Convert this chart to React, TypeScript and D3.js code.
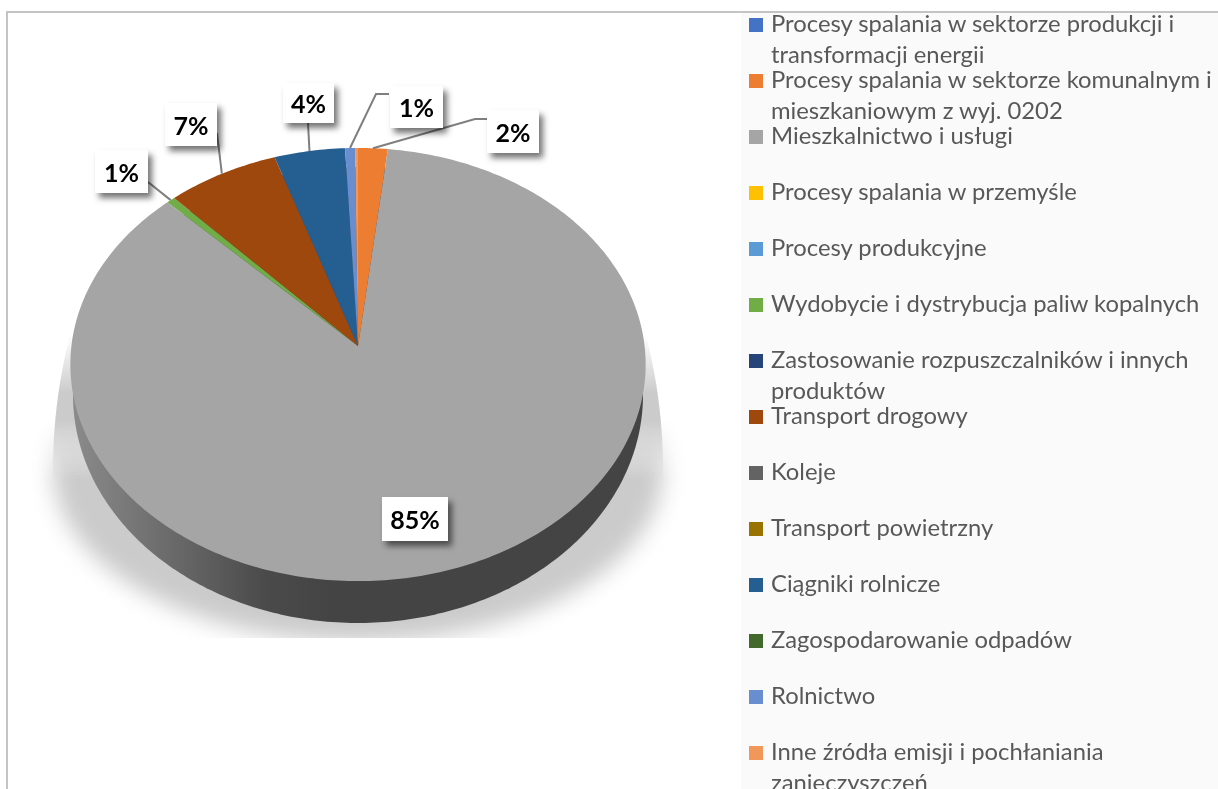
import React from "react";
import * as d3 from "d3";

const categories = [
  "Procesy spalania w sektorze produkcji i|transformacji energii",
  "Procesy spalania w sektorze komunalnym i|mieszkaniowym z wyj. 0202",
  "Mieszkalnictwo i usługi",
  "Procesy spalania w przemyśle",
  "Procesy produkcyjne",
  "Wydobycie i dystrybucja paliw kopalnych",
  "Zastosowanie rozpuszczalników i innych|produktów",
  "Transport drogowy",
  "Koleje",
  "Transport powietrzny",
  "Ciągniki rolnicze",
  "Zagospodarowanie odpadów",
  "Rolnictwo",
  "Inne źródła emisji i pochłaniania|zanieczyszczeń",
];
const shares = [0, 1.8, 85.49, 0, 0, 0.52, 0, 6.83, 0, 0, 4.3, 0, 0.6, 0.18];
const colors = ["#4472c4", "#ed7d31", "#a5a5a5", "#ffc000", "#5b9bd5", "#70ad47", "#264478", "#9e480e", "#636363", "#997300", "#255e91", "#43682b", "#698ed0", "#f1975a"];
const legendCenters = [25, 81, 137, 193, 249, 305, 361, 417, 473, 529, 585, 641, 697, 753];

// label boxes: category index, box x, y, w, h, leader elbow points
const labelLayout: { i: number; x: number; y: number; w: number; h: number; elbow: [number, number][] }[] = [
  { i: 1, x: 487, y: 110, w: 52, h: 43, elbow: [[487, 119], [475, 119]] },
  { i: 2, x: 382, y: 497, w: 66, h: 44, elbow: [] },
  { i: 5, x: 95, y: 150, w: 53, h: 43, elbow: [[148, 182]] },
  { i: 7, x: 165, y: 103, w: 52, h: 43, elbow: [[217, 133]] },
  { i: 10, x: 283, y: 83, w: 51, h: 40, elbow: [[308, 123]] },
  { i: 12, x: 390, y: 86, w: 53, h: 42, elbow: [[389, 94], [376, 94]] },
];

const apex = { x: 358, y: 346 };
const A = 286.6, B = 215, K = 0.0855;
const project = (t: number): [number, number] => {
  const X = Math.sin(t), Y = Math.cos(t);
  const w = 1 + K * Y;
  return [apex.x + (A * X) / w, apex.y - (B * Y) / w];
};
const ellipse = (cx: number, cy: number, rx: number, ryTop: number, ryBottom: number) => (t: number): [number, number] => {
  const c = Math.cos(t);
  return [cx + rx * Math.sin(t), cy - (c > 0 ? ryTop : ryBottom) * c];
};
const steps = (a: number, b: number) => d3.range(0, 1.0001, 1 / Math.max(2, Math.ceil(Math.abs(b - a) * 60))).map((f) => a + (b - a) * f);

const pie = d3.pie<number>().sort(null).value((d) => d);
const arcs = pie(shares);
const line = d3.line();
const full = steps(0, Math.PI * 2);
const pct = d3.format(".0%");
const closed = (f: (t: number) => [number, number]) => line(full.map(f)) + "Z";

const FONT = "Lato, 'Open Sans', sans-serif";

export default function App() {
  const shadowPath = closed(ellipse(358, 470, 305, 408, 172));
  return (
    <svg width={1218} height={789} style={{ position: "absolute", left: 0, top: 0, display: "block", background: "#fff" }}>
      <defs>
        <linearGradient id="side" gradientUnits="userSpaceOnUse" x1={75} x2={330} y1={0} y2={0}>
          <stop offset="0" stopColor="#8a8a8a" />
          <stop offset="0.75" stopColor="#4a4a4a" />
          <stop offset="1" stopColor="#444" />
        </linearGradient>
        <linearGradient id="fadeIn" gradientUnits="userSpaceOnUse" x1={0} x2={0} y1={420} y2={480}>
          <stop offset="0" stopColor="#000" />
          <stop offset="1" stopColor="#fff" />
        </linearGradient>
        <linearGradient id="fadeOut" gradientUnits="userSpaceOnUse" x1={0} x2={0} y1={335} y2={480}>
          <stop offset="0" stopColor="#000" />
          <stop offset="0.4" stopColor="#fff" />
          <stop offset="0.59" stopColor="#fff" />
          <stop offset="1" stopColor="#000" />
        </linearGradient>
        <mask id="maskBlur" maskUnits="userSpaceOnUse" x={0} y={0} width={741} height={789}>
          <rect x={0} y={0} width={741} height={789} fill="url(#fadeIn)" />
        </mask>
        <mask id="maskSharp" maskUnits="userSpaceOnUse" x={0} y={0} width={741} height={789}>
          <rect x={0} y={0} width={741} height={789} fill="url(#fadeOut)" />
        </mask>
        <filter id="blurShadow" x="-20%" y="-20%" width="140%" height="140%">
          <feGaussianBlur stdDeviation="11" />
        </filter>
        <filter id="boxShadow" x="-30%" y="-30%" width="170%" height="170%">
          <feDropShadow dx="4" dy="5" stdDeviation="3" floodColor="#000" floodOpacity="0.55" />
        </filter>
        <filter id="soft" x="-2%" y="-20%" width="104%" height="140%">
          <feGaussianBlur stdDeviation="0.45" />
        </filter>
        <clipPath id="shadowClip"><rect x={30} y={330} width={660} height={308} /></clipPath>
      </defs>

      <rect x={741} y={13} width={477} height={776} fill="#fafafa" />
      <rect x={7} y={11} width={1211} height={2} fill="#c4c4c4" />
      <rect x={6} y={11} width={2} height={778} fill="#c4c4c4" />

      <g clipPath="url(#shadowClip)">
        <g mask="url(#maskBlur)">
          <path d={shadowPath} fill="#cbcbcb" filter="url(#blurShadow)" />
        </g>
        <g mask="url(#maskSharp)">
          <path d={shadowPath} fill="#cbcbcb" />
        </g>
      </g>
      <path d={closed(ellipse(358, 395, 285, 228, 228))} fill="url(#side)" />

      {arcs.map((a, i) =>
        a.value > 0 ? (
          <path
            key={i}
            d={line([[apex.x, apex.y], ...steps(a.startAngle, a.endAngle).map(project)] as [number, number][]) + "Z"}
            fill={colors[i]}
          />
        ) : null
      )}

      {labelLayout.map((l) => {
        const a = arcs[l.i];
        const pts = [...l.elbow, project((a.startAngle + a.endAngle) / 2)] as [number, number][];
        return l.elbow.length ? <path key={l.i} d={line(pts) as string} fill="none" stroke="#7f7f7f" strokeWidth={2} /> : null;
      })}
      {labelLayout.map((l) => (
        <g key={l.i}>
          <rect x={l.x} y={l.y} width={l.w} height={l.h} fill="#fff" filter="url(#boxShadow)" />
          <text x={l.x + l.w / 2} y={l.y + l.h / 2 + 10} textAnchor="middle" fontFamily={FONT} fontWeight={700} fontSize={25} fill="#000" filter="url(#soft)">
            {pct(shares[l.i] / 100)}
          </text>
        </g>
      ))}

      {categories.map((c, i) => {
        const cy = legendCenters[i];
        return (
          <g key={i}>
            <rect x={749} y={cy - 7} width={14} height={14} fill={colors[i]} />
            {c.split("|").map((t, j) => (
              <text key={j} x={771} y={cy + 7 + j * 31} fontFamily={FONT} fontSize={23.8} fill="#595959" filter="url(#soft)">{t}</text>
            ))}
          </g>
        );
      })}
    </svg>
  );
}
